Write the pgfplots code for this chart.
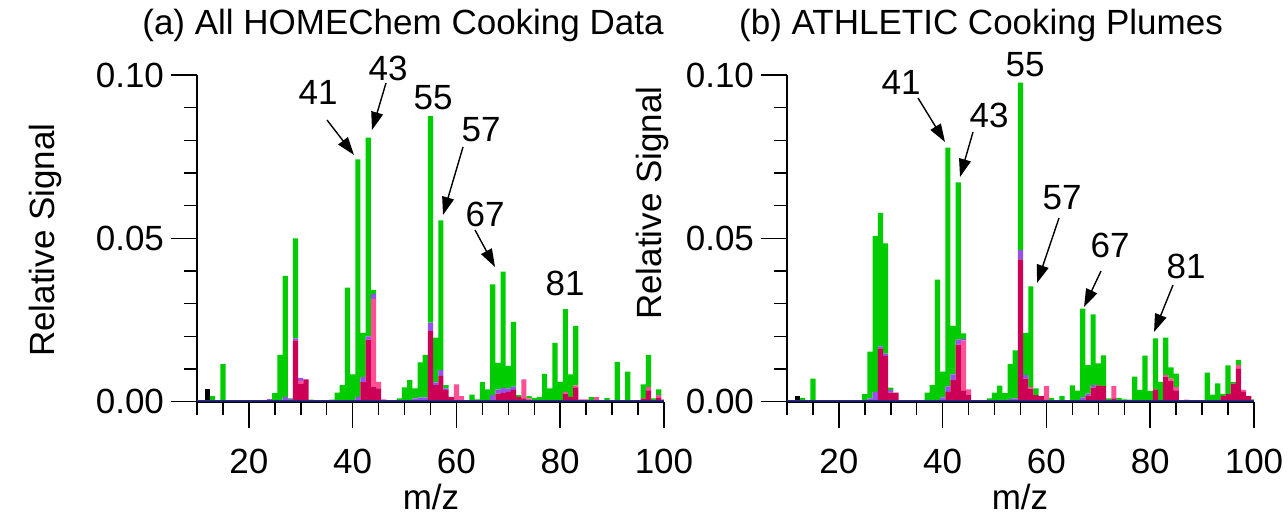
\documentclass[border=0pt]{standalone}
\usepackage{fontspec}
\setmainfont{Liberation Sans}
\usepackage{pgfplots}
\pgfplotsset{compat=1.18}
\usepackage{pgfplotstable}
\usetikzlibrary{arrows.meta}

\definecolor{cgr}{RGB}{0,204,0}
\definecolor{ccr}{RGB}{204,0,85}
\definecolor{chp}{RGB}{255,80,150}
\definecolor{cpu}{RGB}{150,80,235}
\definecolor{cnv}{RGB}{40,40,140}

% columns: m/z, navy, black, crimson, hot pink, purple, green (stacked increments)
\pgfplotstableread{
mz nv bk cr hp pu gr
10 0.0005 0 0 0 0 0
11 0.0005 0 0 0 0 0
12 0.0005 0.0033 0 0 0 0
13 0.0005 0 0 0 0 0.0012
14 0.0005 0 0 0 0 0
15 0.0005 0 0 0 0 0.0110
16 0.0005 0 0 0 0 0
17 0.0005 0 0 0 0 0
18 0.0005 0 0 0 0 0
19 0.0005 0 0 0 0 0
20 0.0005 0 0 0 0 0
21 0.0005 0 0 0 0 0
22 0.0005 0 0 0 0 0
23 0.0005 0 0 0 0 0
24 0.0005 0 0 0 0.0003 0
25 0.0005 0 0 0 0 0.0021
26 0.0005 0 0 0 0 0.0138
27 0.0005 0 0 0 0.0010 0.0370
28 0.0005 0 0 0 0.0004 0.0001
29 0.0005 0 0.0183 0 0.0006 0.0306
30 0.0005 0 0.0050 0.0009 0.0009 0
31 0.0005 0 0.0063 0 0 0
32 0.0005 0 0 0 0 0.0001
33 0.0005 0 0 0 0 0
34 0.0005 0 0 0 0 0
35 0.0005 0 0 0 0 0
36 0.0005 0 0 0 0 0.0001
37 0.0005 0 0 0 0 0.0023
38 0.0005 0 0 0 0 0.0046
39 0.0005 0 0 0 0 0.0344
40 0.0005 0 0 0 0 0.0079
41 0.0005 0 0 0 0.0010 0.0727
42 0.0005 0 0.0055 0 0.0015 0.0136
43 0.0005 0 0.0185 0 0.0010 0.0608
44 0.0005 0 0.0040 0.0270 0.0015 0.0012
45 0.0005 0 0.0036 0.0020 0 0
46 0.0005 0 0 0.0002 0 0
47 0.0005 0 0 0 0 0
48 0.0005 0 0 0 0 0
49 0.0005 0 0 0 0 0.0005
50 0.0005 0 0 0 0 0.0039
51 0.0005 0 0 0 0 0.0061
52 0.0005 0 0 0 0.0005 0.0031
53 0.0005 0 0 0 0.0008 0.0107
54 0.0005 0 0 0 0.0008 0.0130
55 0.0005 0 0.0211 0 0.0026 0.0632
56 0.0005 0 0.0046 0 0.0008 0.0137
57 0.0005 0 0.0074 0 0.0018 0.0458
58 0.0005 0 0.0031 0 0.0005 0.0010
59 0.0005 0 0.0010 0 0 0
60 0.0005 0 0 0.0048 0 0
61 0.0005 0 0 0.0012 0 0
62 0.0005 0 0 0 0 0
63 0.0005 0 0 0 0 0.0017
64 0.0005 0 0 0 0 0.0002
65 0.0005 0 0 0 0 0.0055
66 0.0005 0 0 0 0 0.0033
67 0.0005 0 0 0 0.0015 0.0339
68 0.0005 0 0.0020 0 0.0012 0.0082
69 0.0005 0 0.0022 0 0.0015 0.0356
70 0.0005 0 0.0025 0 0.0010 0.0070
71 0.0005 0 0.0031 0 0.0010 0.0198
72 0.0005 0 0.0010 0 0 0.0005
73 0.0005 0 0.0005 0.0058 0 0
74 0.0005 0 0 0.0005 0 0.0007
75 0.0005 0 0 0 0 0.0007
76 0.0005 0 0 0 0 0.0010
77 0.0005 0 0 0 0 0.0080
78 0.0005 0 0 0 0 0.0036
79 0.0005 0 0 0 0 0.0175
80 0.0005 0 0 0 0 0.0056
81 0.0005 0 0.0020 0.0005 0 0.0253
82 0.0005 0 0.0010 0 0 0.0069
83 0.0005 0 0.0039 0.0006 0 0.0182
84 0.0005 0 0 0.0002 0 0
85 0.0005 0 0 0.0002 0 0
86 0.0005 0 0 0 0 0.0009
87 0.0005 0 0 0.0009 0 0
88 0.0005 0 0 0 0 0
89 0.0005 0 0 0 0 0.0006
90 0.0005 0 0 0 0 0
91 0.0005 0 0 0 0 0.0117
92 0.0005 0 0 0 0 0
93 0.0005 0 0 0 0 0.0087
94 0.0005 0 0 0 0 0
95 0.0005 0 0 0 0 0
96 0.0005 0 0.0005 0 0 0.0043
97 0.0005 0 0.0030 0.0010 0 0.0098
98 0.0005 0 0 0 0 0.0005
99 0.0005 0 0.0007 0.0008 0 0.0018
100 0.0005 0 0 0.0002 0 0
}\dataA

\pgfplotstableread{
mz nv bk cr hp pu gr
10 0.0005 0 0 0 0 0
11 0.0005 0 0 0 0 0
12 0.0005 0.0012 0 0 0 0
13 0.0005 0 0 0 0 0.0007
14 0.0005 0 0 0 0 0
15 0.0005 0 0 0 0 0.0066
16 0.0005 0 0 0 0 0
17 0.0005 0 0 0 0 0
18 0.0005 0 0 0 0 0
19 0.0005 0 0 0 0 0
20 0.0005 0 0 0 0 0
21 0.0005 0 0 0 0 0
22 0.0005 0 0 0 0 0
23 0.0005 0 0 0 0 0
24 0.0005 0 0 0 0 0
25 0.0005 0 0 0 0 0.0018
26 0.0005 0 0 0 0.0005 0.0143
27 0.0005 0 0 0 0.0025 0.0477
28 0.0005 0 0.0158 0 0.0006 0.0409
29 0.0005 0 0.0135 0 0.0007 0.0338
30 0.0005 0 0.0023 0 0.0008 0.0007
31 0.0005 0 0.0023 0 0 0
32 0.0005 0 0 0 0 0
33 0.0005 0 0 0 0 0
34 0.0005 0 0 0 0 0
35 0.0005 0 0 0 0 0
36 0.0005 0 0 0 0 0
37 0.0005 0 0 0 0 0.0023
38 0.0005 0 0 0 0 0.0046
39 0.0005 0 0 0 0 0.0369
40 0.0005 0 0 0 0.0008 0.0079
41 0.0005 0 0.0025 0 0.0017 0.0731
42 0.0005 0 0.0061 0 0.0018 0.0148
43 0.0005 0 0.0170 0 0.0015 0.0481
44 0.0005 0 0.0030 0.0152 0.0005 0.0017
45 0.0005 0 0.0015 0.0018 0 0
46 0.0005 0 0 0 0 0
47 0.0005 0 0 0 0 0
48 0.0005 0 0 0 0 0
49 0.0005 0 0 0 0 0.0005
50 0.0005 0 0 0 0 0.0023
51 0.0005 0 0 0 0 0.0044
52 0.0005 0 0 0 0 0.0021
53 0.0005 0 0 0 0.0003 0.0107
54 0.0005 0 0 0 0.0005 0.0147
55 0.0005 0 0.0431 0 0.0028 0.0513
56 0.0005 0 0.0066 0 0.0011 0.0129
57 0.0005 0 0.0035 0.0005 0 0.0308
58 0.0005 0 0.0015 0 0 0.0021
59 0.0005 0 0.0012 0 0 0
60 0.0005 0 0 0.0043 0 0
61 0.0005 0 0 0 0 0.0007
62 0.0005 0 0 0 0 0
63 0.0005 0 0 0 0 0.0012
64 0.0005 0 0 0 0 0
65 0.0005 0 0 0 0 0.0045
66 0.0005 0 0 0 0 0.0029
67 0.0005 0 0 0 0.0008 0.0272
68 0.0005 0 0.0012 0 0.0008 0.0087
69 0.0005 0 0.0038 0 0.0008 0.0216
70 0.0005 0 0.0045 0 0 0.0067
71 0.0005 0 0.0043 0 0 0.0094
72 0.0005 0 0 0 0 0.0005
73 0.0005 0 0.0005 0.0038 0 0
74 0.0005 0 0 0 0 0.0007
75 0.0005 0 0 0 0 0.0002
76 0.0005 0 0 0 0 0.0001
77 0.0005 0 0 0 0 0.0072
78 0.0005 0 0 0 0 0.0031
79 0.0005 0 0 0 0 0.0136
80 0.0005 0 0 0 0 0.0028
81 0.0005 0 0.0033 0 0 0.0156
82 0.0005 0 0 0 0 0.0056
83 0.0005 0 0.0070 0.0007 0 0.0114
84 0.0005 0 0.0058 0.0008 0 0.0034
85 0.0005 0 0.0030 0.0010 0 0.0041
86 0.0005 0 0 0 0 0
87 0.0005 0 0 0.0001 0 0
88 0.0005 0 0 0 0 0
89 0.0005 0 0 0 0 0
90 0.0005 0 0 0 0 0
91 0.0005 0 0 0 0 0.0084
92 0.0005 0 0 0 0 0.0017
93 0.0005 0 0 0 0 0.0051
94 0.0005 0 0.0012 0 0 0.0007
95 0.0005 0 0.0018 0 0 0.0088
96 0.0005 0 0.0050 0 0 0.0006
97 0.0005 0 0.0097 0.0010 0 0.0016
98 0.0005 0 0.0025 0.0006 0 0
99 0.0005 0 0.0012 0 0 0
100 0.0005 0 0 0 0 0.0002
}\dataB

\pgfplotsset{
  msaxis/.style={
    scale only axis,
    width=233.5pt, height=163.35pt,
    anchor=south west,
    xmin=10, xmax=100, ymin=0, ymax=0.1,
    axis lines*=left,
    axis line style={line width=1pt, black},
    ybar stacked, bar width=1,
    xtick={20,40,...,100},
    minor xtick={10,15,...,100},
    ytick={0,0.05,0.1},
    minor ytick={0,0.01,...,0.1},
    tick align=outside,
    major tick length=13pt,
    minor tick length=6.5pt,
    every tick/.style={line width=0.75pt, black},
    /pgf/number format/assume math mode=true,
    yticklabel style={/pgf/number format/.cd, fixed, fixed zerofill, precision=2},
    xticklabel style={yshift=-7pt},
    scaled y ticks=false,
    every axis plot/.append style={draw=none},
  }
}

\begin{document}
\begin{tikzpicture}[font=\fontsize{17.5}{21}\selectfont]
\useasboundingbox (0,0) rectangle (644pt,260pt);

\begin{axis}[msaxis, at={(98.5pt,59.15pt)}]
\addplot[fill=cnv] table[x=mz,y=nv] {\dataA};
\addplot[fill=black] table[x=mz,y=bk] {\dataA};
\addplot[fill=ccr] table[x=mz,y=cr] {\dataA};
\addplot[fill=chp] table[x=mz,y=hp] {\dataA};
\addplot[fill=cpu] table[x=mz,y=pu] {\dataA};
\addplot[fill=cgr] table[x=mz,y=gr] {\dataA};
\end{axis}

\begin{axis}[msaxis, at={(393.5pt,59.15pt)}]
\addplot[fill=cnv] table[x=mz,y=nv] {\dataB};
\addplot[fill=black] table[x=mz,y=bk] {\dataB};
\addplot[fill=ccr] table[x=mz,y=cr] {\dataB};
\addplot[fill=chp] table[x=mz,y=hp] {\dataB};
\addplot[fill=cpu] table[x=mz,y=pu] {\dataB};
\addplot[fill=cgr] table[x=mz,y=gr] {\dataB};
\end{axis}

% titles and axis labels
\node[anchor=base] at (201.5pt,242.5pt) {(a) All HOMEChem Cooking Data};
\node[anchor=base] at (490.5pt,242.5pt) {(b) ATHLETIC Cooking Plumes};
\node[rotate=90] at (22.5pt,140pt) {Relative Signal};
\node[rotate=90] at (326pt,158.5pt) {Relative Signal};
\node[anchor=base] at (215.5pt,5.5pt) {m/z};
\node[anchor=base] at (510pt,5.5pt) {m/z};

% peak annotations
\tikzset{pk/.style={-{Triangle[length=9pt,width=6pt]}, line width=0.7pt, black}}
\node[inner sep=0pt] at (159pt,214pt) {41};
\draw[pk] (163.5pt,200pt) -- (177pt,182.5pt);
\node[inner sep=0pt] at (194pt,226pt) {43};
\draw[pk] (193pt,218.5pt) -- (186pt,195pt);
\node[inner sep=0pt] at (216.5pt,211pt) {55};
\node[inner sep=0pt] at (240.5pt,195pt) {57};
\draw[pk] (231.5pt,186.5pt) -- (221.5pt,152.5pt);
\node[inner sep=0pt] at (242.5pt,153pt) {67};
\draw[pk] (237.5pt,145pt) -- (247.5pt,126.5pt);
\node[inner sep=0pt] at (282.5pt,118.5pt) {81};

\node[inner sep=0pt] at (450.5pt,219pt) {41};
\draw[pk] (459pt,211pt) -- (472.5pt,189pt);
\node[inner sep=0pt] at (494.5pt,202.5pt) {43};
\draw[pk] (486.5pt,194pt) -- (480pt,171.5pt);
\node[inner sep=0pt] at (512.5pt,227.5pt) {55};
\node[inner sep=0pt] at (531pt,161pt) {57};
\draw[pk] (529.5pt,151pt) -- (518.5pt,118.5pt);
\node[inner sep=0pt] at (555pt,137.5pt) {67};
\draw[pk] (550.5pt,124.5pt) -- (542pt,106.5pt);
\node[inner sep=0pt] at (593pt,127pt) {81};
\draw[pk] (586.5pt,117.5pt) -- (577pt,94pt);
\end{tikzpicture}
\end{document}
